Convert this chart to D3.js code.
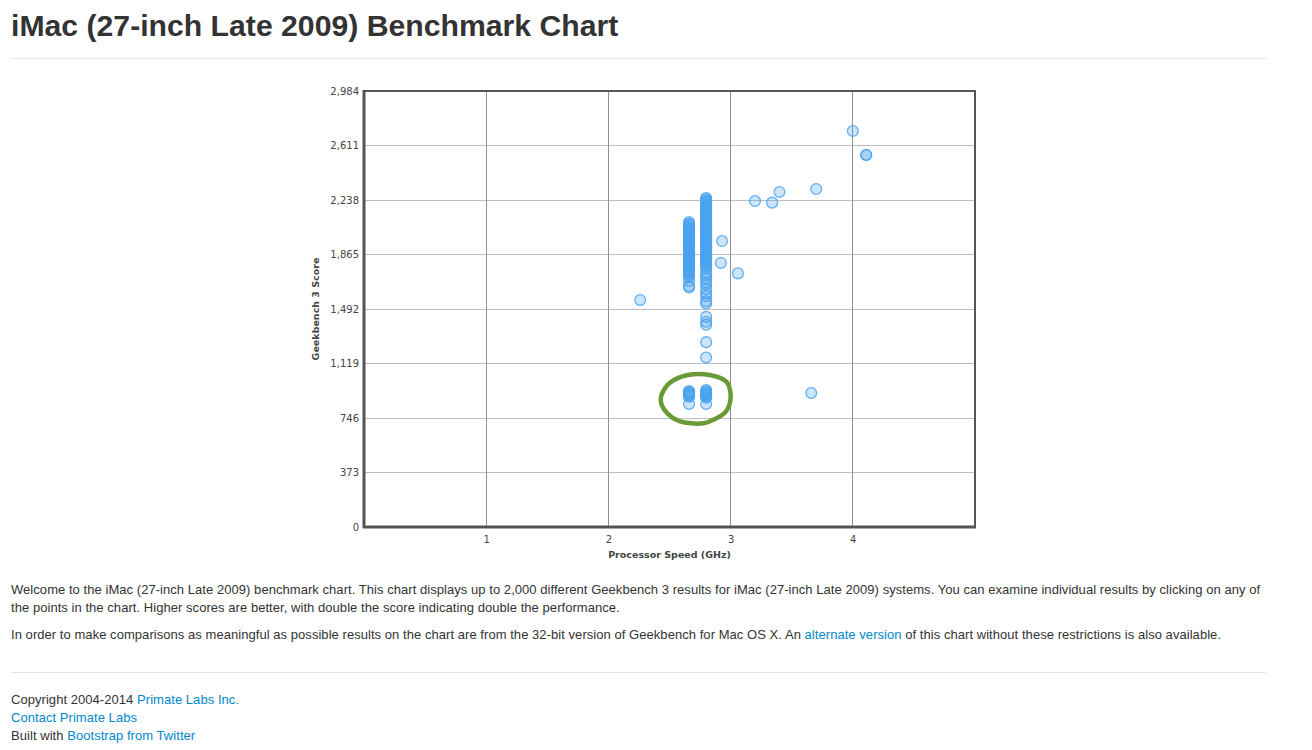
<!DOCTYPE html>
<html>
<head>
<meta charset="utf-8">
<script src="https://cdn.jsdelivr.net/npm/d3@7"></script>
<style>
  html, body { margin:0; padding:0; background:#fff; }
  body { width:1312px; height:750px; position:relative; overflow:hidden;
         font-family:"Liberation Sans", Arial, Helvetica, sans-serif; color:#333; }
  .title { position:absolute; left:11px; top:9px; font-size:30.2px; font-weight:bold; color:#333; white-space:nowrap; }
  .hr { position:absolute; left:11px; width:1255px; height:1px; background:#e5e5e5; }
  .p { position:absolute; left:11px; font-size:13px; line-height:18px; white-space:nowrap; color:#333; letter-spacing:0.05px; }
  a { color:#0088cc; text-decoration:none; }
  svg { position:absolute; left:0; top:0; }
</style>
</head>
<body>
<div class="title">iMac (27-inch Late 2009) Benchmark Chart</div>
<div class="hr" style="top:58px"></div>
<svg id="chart" width="1312" height="580"></svg>
<div class="p" style="top:581px">Welcome to the iMac (27-inch Late 2009) benchmark chart. This chart displays up to 2,000 different Geekbench 3 results for iMac (27-inch Late 2009) systems. You can examine individual results by clicking on any of<br>the points in the chart. Higher scores are better, with double the score indicating double the performance.</div>
<div class="p" style="top:626px">In order to make comparisons as meaningful as possible results on the chart are from the 32-bit version of Geekbench for Mac OS X. An <a href="#">alternate version</a> of this chart without these restrictions is also available.</div>
<div class="hr" style="top:672px"></div>
<div class="p" style="top:691px">Copyright 2004-2014 <a href="#">Primate Labs Inc.</a><br><a href="#">Contact Primate Labs</a><br>Built with <a href="#">Bootstrap from Twitter</a></div>
<script>
// ---- data ----
const xTicks = [1, 2, 3, 4];
const yTicks = [0, 373, 746, 1119, 1492, 1865, 2238, 2611, 2984];

// 2.66 GHz results
const scores266 = [2087, 2076, 2068, 2059, 2050, 2041, 2033, 2024, 2015, 2006, 1998, 1989, 1980,
  1971, 1962, 1954, 1945, 1936, 1927, 1918, 1910, 1901, 1892, 1883, 1874, 1866, 1857, 1848, 1839,
  1830, 1822, 1813, 1804, 1795, 1786, 1778, 1769, 1760, 1751, 1742, 1734, 1725, 1712, 1684, 1650, 1640,
  930, 924, 918, 912, 905, 898, 892, 842];
// 2.8 GHz results
const scores280 = [2252, 2244, 2235, 2226, 2218, 2209, 2200, 2191, 2183, 2174, 2165, 2157, 2148,
  2139, 2130, 2122, 2113, 2104, 2096, 2087, 2078, 2069, 2061, 2052, 2043, 2035, 2026, 2017, 2008,
  2000, 1991, 1982, 1974, 1965, 1956, 1947, 1939, 1930, 1921, 1913, 1904, 1895, 1886, 1878, 1869,
  1860, 1852, 1843, 1834, 1825, 1817, 1808, 1799, 1782, 1768, 1740, 1720, 1700, 1675, 1660, 1628,
  1600, 1580, 1545, 1530, 1438, 1405, 1385, 1265, 1160,
  938, 930, 922, 915, 908, 900, 893, 885, 842];
// other processor speeds
const otherGHz    = [2.26, 2.93, 2.92, 3.06, 3.2, 3.34, 3.4, 3.66, 3.7, 4.0, 4.11, 4.11];
const otherScores = [1554, 1957, 1807, 1736, 2231, 2220, 2293, 917, 2313, 2710, 2546, 2546];

// hand-drawn annotation loop (data coords: GHz, score)
const loopGHz   = [2.43, 2.50, 2.65, 2.83, 2.97, 3.0, 2.95, 2.78, 2.58, 2.46];
const loopScore = [890, 985, 1040, 1040, 990, 880, 780, 710, 725, 800];

// ---- chart ----
const svg = d3.select("#chart");
const pLeft = 364, pRight = 975, pTop = 91, pBottom = 527;
const x = d3.scaleLinear().domain([0, 5]).range([pLeft, pRight]);
const y = d3.scaleLinear().domain([0, 2984]).range([pBottom, pTop]);

const g = svg.append("g");

// grid
g.append("g").selectAll("line").data(yTicks.slice(1, -1)).join("line")
  .attr("x1", pLeft).attr("x2", pRight)
  .attr("y1", d => y(d)).attr("y2", d => y(d))
  .attr("stroke", "#bdbdbd").attr("stroke-width", 1).attr("shape-rendering", "crispEdges");
g.append("g").selectAll("line").data(xTicks).join("line")
  .attr("x1", d => x(d)).attr("x2", d => x(d))
  .attr("y1", pTop).attr("y2", pBottom)
  .attr("stroke", "#8f8f8f").attr("stroke-width", 1).attr("shape-rendering", "crispEdges");

// frame
g.append("rect").attr("x", pLeft).attr("y", pTop).attr("width", pRight - pLeft).attr("height", pBottom - pTop)
  .attr("fill", "none").attr("stroke", "#555").attr("stroke-width", 2);
g.append("line").attr("x1", pLeft).attr("x2", pLeft).attr("y1", pTop - 1).attr("y2", pBottom + 1)
  .attr("stroke", "#555").attr("stroke-width", 3);
g.append("line").attr("x1", pLeft - 1).attr("x2", pRight + 1).attr("y1", pBottom).attr("y2", pBottom)
  .attr("stroke", "#555").attr("stroke-width", 3);

// axes (labels only)
const yAxis = d3.axisLeft(y).tickValues(yTicks).tickSize(0).tickPadding(4).tickFormat(d3.format(","));
const ya = g.append("g").attr("transform", `translate(${pLeft - 1},0)`).call(yAxis);
ya.select(".domain").remove();
ya.selectAll("text").attr("font-family", "DejaVu Sans, Verdana, sans-serif").attr("font-size", "10px").attr("fill", "#444");

const xAxis = d3.axisBottom(x).tickValues(xTicks).tickSize(0).tickPadding(9).tickFormat(d3.format("d"));
const xa = g.append("g").attr("transform", `translate(0,${pBottom})`).call(xAxis);
xa.select(".domain").remove();
xa.selectAll("text").attr("font-family", "DejaVu Sans, Verdana, sans-serif").attr("font-size", "10px").attr("fill", "#444");

g.append("text").attr("x", (pLeft + pRight) / 2).attr("y", 558).attr("text-anchor", "middle")
  .attr("font-family", "DejaVu Sans, Verdana, sans-serif").attr("font-size", "9.5px").attr("font-weight", "bold").attr("fill", "#444")
  .text("Processor Speed (GHz)");
g.append("text").attr("transform", `translate(319,${(pTop + pBottom) / 2}) rotate(-90)`).attr("text-anchor", "middle")
  .attr("font-family", "DejaVu Sans, Verdana, sans-serif").attr("font-size", "9.5px").attr("font-weight", "bold").attr("fill", "#444")
  .text("Geekbench 3 Score");

// points
const pts = [];
scores266.forEach(s => pts.push({ghz: 2.66, score: s}));
scores280.forEach(s => pts.push({ghz: 2.8, score: s}));
otherGHz.forEach((v, i) => pts.push({ghz: v, score: otherScores[i]}));

g.append("g").selectAll("circle").data(pts).join("circle")
  .attr("cx", d => x(d.ghz)).attr("cy", d => y(d.score)).attr("r", 5.4)
  .attr("fill", "rgba(74,163,238,0.28)")
  .attr("stroke", "rgba(74,163,238,0.85)").attr("stroke-width", 1.3);

// annotation loop
const loop = loopGHz.map((v, i) => [x(v), y(loopScore[i])]);
g.append("path").attr("d", d3.line().curve(d3.curveCardinalClosed.tension(0.1))(loop))
  .attr("fill", "none").attr("stroke", "#6a9a36").attr("stroke-width", 4.5).attr("stroke-linejoin", "round");
</script>
</body>
</html>
